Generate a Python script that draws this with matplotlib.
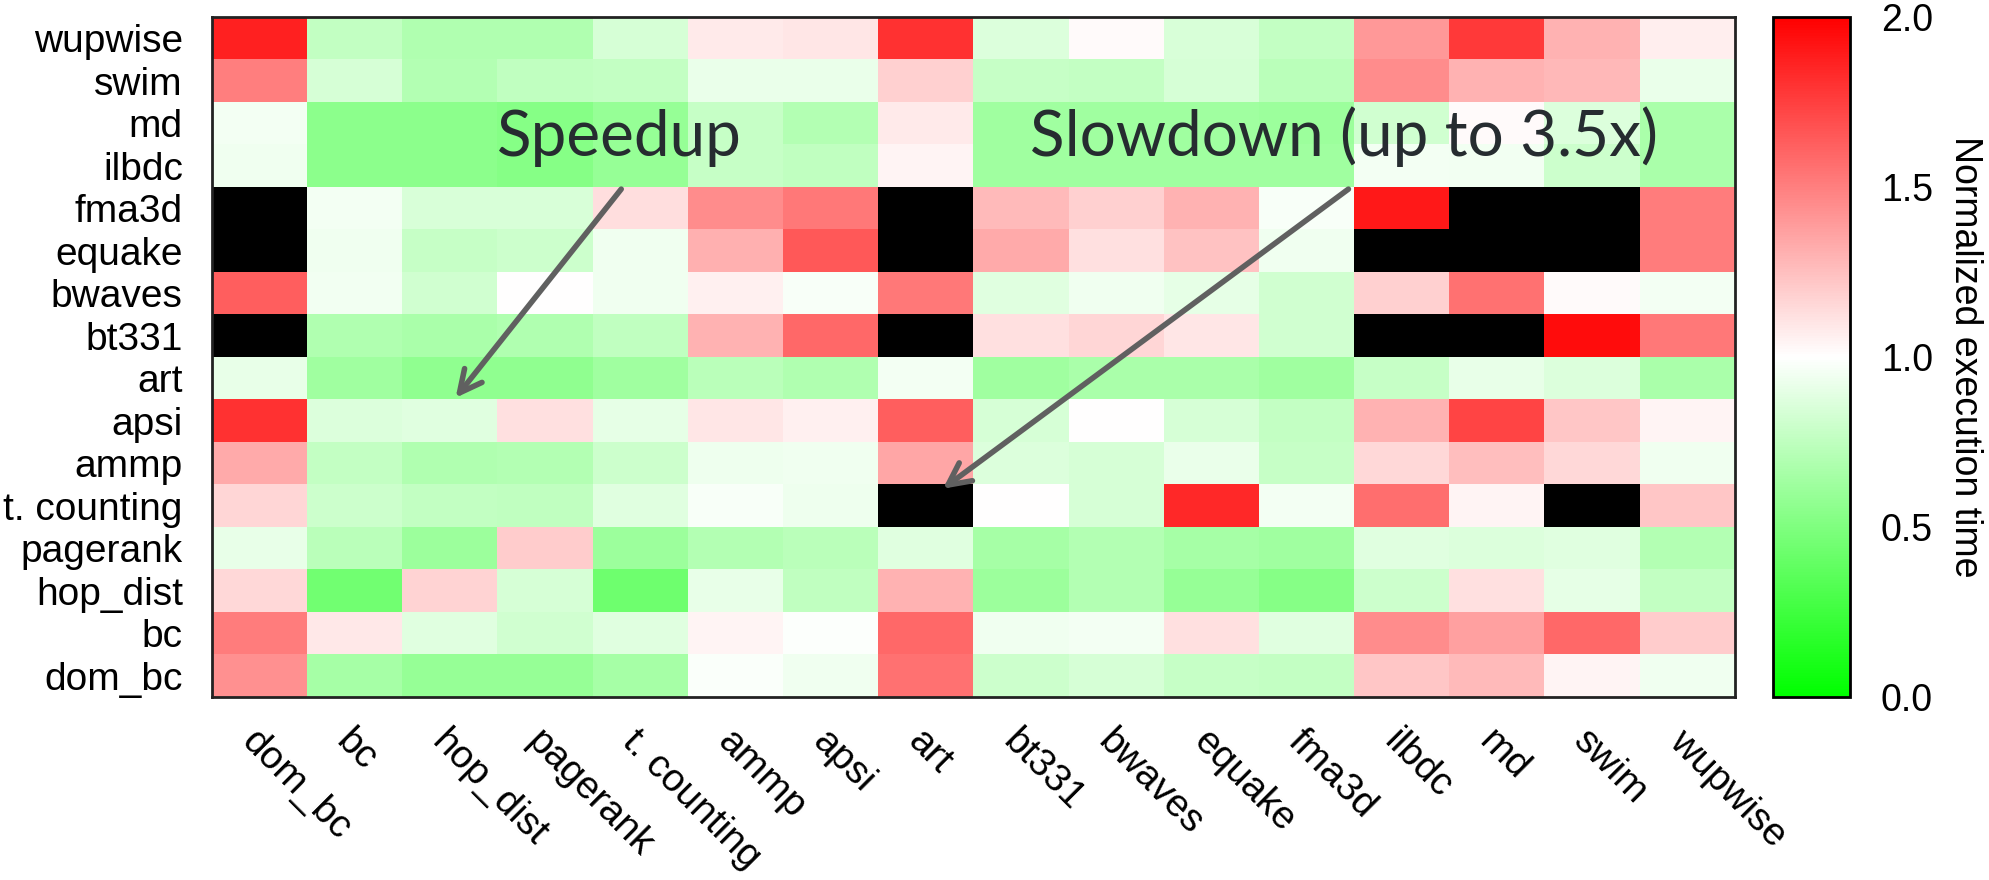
import numpy as np
import matplotlib
matplotlib.use('Agg')
import matplotlib.pyplot as plt
from matplotlib.colors import LinearSegmentedColormap

plt.rcParams['font.family'] = ['Liberation Sans', 'DejaVu Sans']

# columns (x) and rows (y, top to bottom)
cols = ['dom_bc', 'bc', 'hop_dist', 'pagerank', 't. counting', 'ammp', 'apsi', 'art',
        'bt331', 'bwaves', 'equake', 'fma3d', 'ilbdc', 'md', 'swim', 'wupwise']
rows = ['wupwise', 'swim', 'md', 'ilbdc', 'fma3d', 'equake', 'bwaves', 'bt331',
        'art', 'apsi', 'ammp', 't. counting', 'pagerank', 'hop_dist', 'bc', 'dom_bc']

# normalized execution time, values > 2 drawn black
wupwise  = [1.87, 0.76, 0.69, 0.69, 0.84, 1.08, 1.10, 1.80, 0.86, 1.02, 0.85, 0.77, 1.40, 1.77, 1.30, 1.07]
swim     = [1.50, 0.84, 0.71, 0.75, 0.77, 0.92, 0.92, 1.18, 0.78, 0.77, 0.84, 0.73, 1.45, 1.30, 1.28, 0.92]
md       = [0.96, 0.55, 0.55, 0.53, 0.59, 0.78, 0.71, 1.08, 0.63, 0.63, 0.63, 0.61, 0.82, 1.02, 0.86, 0.67]
ilbdc    = [0.94, 0.55, 0.55, 0.53, 0.59, 0.78, 0.75, 1.04, 0.63, 0.63, 0.63, 0.63, 0.96, 0.95, 0.80, 0.67]
fma3d    = [2.60, 0.96, 0.85, 0.85, 1.13, 1.45, 1.53, 2.80, 1.27, 1.18, 1.30, 0.97, 1.90, 2.40, 2.30, 1.51]
equake   = [2.70, 0.94, 0.78, 0.80, 0.94, 1.31, 1.65, 2.90, 1.33, 1.12, 1.24, 0.94, 2.50, 2.60, 2.20, 1.51]
bwaves   = [1.63, 0.95, 0.82, 1.00, 0.94, 1.06, 0.97, 1.53, 0.88, 0.94, 0.90, 0.82, 1.18, 1.55, 1.02, 0.96]
bt331    = [2.40, 0.69, 0.67, 0.69, 0.75, 1.30, 1.59, 3.10, 1.12, 1.16, 1.10, 0.82, 2.30, 2.70, 1.95, 1.53]
art      = [0.91, 0.63, 0.57, 0.57, 0.63, 0.73, 0.69, 0.96, 0.63, 0.67, 0.67, 0.63, 0.78, 0.91, 0.86, 0.67]
apsi     = [1.80, 0.86, 0.88, 1.12, 0.90, 1.10, 1.06, 1.63, 0.84, 1.00, 0.84, 0.77, 1.30, 1.73, 1.22, 1.04]
ammp     = [1.33, 0.77, 0.69, 0.71, 0.80, 0.93, 0.94, 1.35, 0.86, 0.84, 0.92, 0.78, 1.15, 1.25, 1.15, 0.94]
tcount   = [1.16, 0.80, 0.76, 0.75, 0.88, 0.97, 0.93, 3.50, 1.00, 0.84, 1.84, 0.96, 1.57, 1.04, 2.60, 1.22]
pagerank = [0.91, 0.73, 0.61, 1.20, 0.61, 0.71, 0.73, 0.88, 0.65, 0.71, 0.65, 0.63, 0.88, 0.86, 0.88, 0.71]
hop_dist = [1.15, 0.45, 1.17, 0.84, 0.43, 0.91, 0.75, 1.30, 0.61, 0.71, 0.59, 0.53, 0.80, 1.12, 0.90, 0.76]
bc       = [1.51, 1.09, 0.88, 0.82, 0.88, 1.04, 0.99, 1.59, 0.94, 0.96, 1.12, 0.88, 1.45, 1.37, 1.59, 1.20]
dom_bc   = [1.43, 0.65, 0.59, 0.59, 0.65, 0.98, 0.94, 1.55, 0.80, 0.84, 0.78, 0.77, 1.22, 1.27, 1.04, 0.94]

data = np.array([wupwise, swim, md, ilbdc, fma3d, equake, bwaves, bt331,
                 art, apsi, ammp, tcount, pagerank, hop_dist, bc, dom_bc])

cmap = LinearSegmentedColormap.from_list('gwr', ['#00ff00', '#ffffff', '#ff0000'], N=256)
cmap.set_over('black')

fig = plt.figure(figsize=(19.9, 8.8), dpi=100)
ax = fig.add_axes([0.1065, 0.208, 0.7653, 0.7727])
cax = fig.add_axes([0.891, 0.208, 0.0387, 0.7727])

im = ax.imshow(data, cmap=cmap, vmin=0, vmax=2, aspect='auto', interpolation='nearest')

ax.set_xticks(np.arange(len(cols)))
ax.set_xticklabels(cols, rotation=-45, ha='left', va='top', rotation_mode='anchor')
ax.set_yticks(np.arange(len(rows)))
ax.set_yticklabels(rows)
ax.tick_params(axis='both', length=0, labelsize=28)
ax.tick_params(axis='x', pad=19)
ax.tick_params(axis='y', pad=21)
for s in ax.spines.values():
    s.set_linewidth(2)
    s.set_color('#222222')

cb = fig.colorbar(im, cax=cax, ticks=[0, 0.5, 1.0, 1.5, 2.0])
cb.ax.set_yticklabels(['0.0', '0.5', '1.0', '1.5', '2.0'])
cb.ax.tick_params(length=0, labelsize=27, pad=22)
cb.outline.set_linewidth(2)
cb.set_label('Normalized execution time', rotation=270, fontsize=27, labelpad=36)

# annotations
txt_kw = dict(fontsize=46, family=['Lato', 'DejaVu Sans'], color='#262c30',
              ha='center', va='baseline')
ax.text(3.78, 2.77, 'Speedup', **txt_kw)
ax.text(11.39, 2.77, 'Slowdown (up to 3.5x)', **txt_kw)

arr_kw = dict(arrowstyle='->', color='#606060', lw=4, mutation_scale=40,
              shrinkA=0, shrinkB=0)
ax.annotate('', xy=(2.06, 8.46), xytext=(3.80, 3.55), arrowprops=arr_kw)
ax.annotate('', xy=(7.18, 10.6), xytext=(11.44, 3.55), arrowprops=arr_kw)

fig.savefig('out.png', dpi=100)
